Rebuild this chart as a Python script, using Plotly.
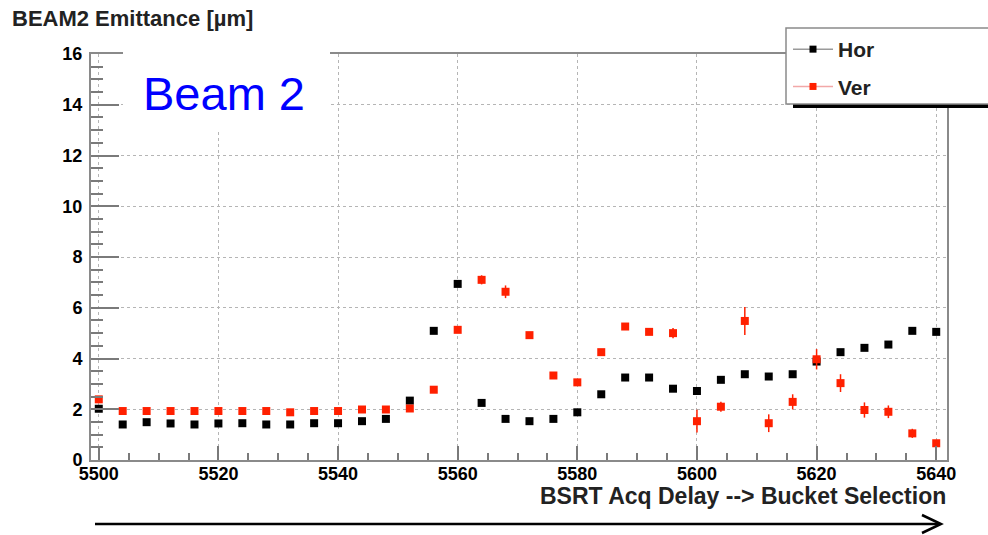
import plotly.graph_objects as go

delays = [5500, 5504, 5508, 5512, 5516, 5520, 5524, 5528, 5532, 5536, 5540, 5544,
          5548, 5552, 5556, 5560, 5564, 5568, 5572, 5576, 5580, 5584, 5588, 5592,
          5596, 5600, 5604, 5608, 5612, 5616, 5620, 5624, 5628, 5632, 5636, 5640]
hor = [2.02, 1.40, 1.49, 1.44, 1.40, 1.44, 1.45, 1.40, 1.40, 1.45, 1.45, 1.53,
       1.62, 2.34, 5.09, 6.94, 2.25, 1.62, 1.53, 1.62, 1.88, 2.59, 3.25, 3.25,
       2.81, 2.72, 3.16, 3.38, 3.29, 3.38, 3.88, 4.25, 4.42, 4.55, 5.09, 5.05]
ver = [2.39, 1.93, 1.93, 1.93, 1.93, 1.93, 1.93, 1.93, 1.88, 1.93, 1.93, 1.99,
       1.99, 2.03, 2.77, 5.13, 7.10, 6.63, 4.92, 3.33, 3.06, 4.25, 5.26, 5.05,
       5.00, 1.53, 2.10, 5.48, 1.45, 2.29, 3.97, 3.03, 1.97, 1.90, 1.05, 0.66]
ver_err = [0.12, 0.05, 0.05, 0.05, 0.05, 0.05, 0.05, 0.05, 0.05, 0.05, 0.05, 0.05,
           0.05, 0.08, 0.10, 0.10, 0.18, 0.25, 0.10, 0.08, 0.08, 0.10, 0.08, 0.10,
           0.20, 0.45, 0.20, 0.55, 0.35, 0.30, 0.40, 0.35, 0.30, 0.25, 0.18, 0.12]

RED = "#ff2000"
FONT = "Liberation Sans, Arial, sans-serif"

fig = go.Figure()
fig.add_trace(go.Scatter(x=delays, y=hor, mode="markers", showlegend=False,
                         marker=dict(symbol="square", size=8, color="black")))
fig.add_trace(go.Scatter(x=delays, y=ver, mode="markers", showlegend=False,
                         error_y=dict(type="data", array=ver_err, color=RED,
                                      thickness=1.5, width=0),
                         marker=dict(symbol="square", size=8, color=RED)))
# legend entries
fig.add_trace(go.Scatter(x=[None], y=[None], mode="lines+markers", name="Hor",
                         legendgroup="h",
                         line=dict(color="#9a9a9a", width=1.5),
                         marker=dict(symbol="square", size=7, color="black")))
fig.add_trace(go.Scatter(x=[None], y=[None], mode="lines+markers", name="Ver",
                         legendgroup="v",
                         line=dict(color="#f2a8a8", width=1.5),
                         marker=dict(symbol="square", size=7, color=RED)))

axis_common = dict(showline=True, mirror=True, linecolor="#8a8a8a", linewidth=2,
                   showgrid=True, gridcolor="#b5b5b5", griddash="dot", gridwidth=1,
                   zeroline=False, ticks="inside", tickcolor="#7a7a7a", tickwidth=2,
                   tickfont=dict(family=FONT, size=18, color="black", weight="bold"))

fig.update_xaxes(range=[5498.7, 5641.8], tick0=5500, dtick=20, ticklen=14,
                 ticklabelstandoff=-4,
                 minor=dict(dtick=5, tick0=5500, ticklen=7, ticks="inside",
                            tickcolor="#7a7a7a", tickwidth=1.5, showgrid=False),
                 **axis_common)
fig.update_yaxes(range=[0, 16], tick0=0, dtick=2, ticklen=28, ticklabelstandoff=3,
                 minor=dict(dtick=0.5, ticklen=12, ticks="inside",
                            tickcolor="#7a7a7a", tickwidth=1.5, showgrid=False),
                 **axis_common)

def px_x(p):
    return (p - 91) / (947 - 91)

def px_y(p):
    return (460 - p) / (460 - 54)

shapes = [
    # white box behind "Beam 2"
    dict(type="rect", xref="paper", yref="paper", layer="above",
         x0=px_x(123), x1=px_x(330), y0=px_y(130), y1=px_y(50),
         fillcolor="white", line=dict(width=0)),
    # legend shadow
    dict(type="rect", xref="paper", yref="paper", layer="above",
         x0=px_x(793), x1=px_x(992), y0=px_y(108), y1=px_y(103),
         fillcolor="black", line=dict(width=0)),
    # legend box
    dict(type="rect", xref="paper", yref="paper", layer="above",
         x0=px_x(786), x1=px_x(995), y0=px_y(104), y1=px_y(28),
         fillcolor="white", line=dict(color="#8a8a8a", width=1.5)),
    # bottom arrow
    dict(type="line", xref="paper", yref="paper",
         x0=px_x(95), x1=px_x(940), y0=px_y(524), y1=px_y(524),
         line=dict(color="black", width=2.5)),
    dict(type="path", xref="paper", yref="paper",
         path="M %f,%f L %f,%f L %f,%f" % (px_x(922), px_y(515), px_x(941), px_y(524),
                                             px_x(922), px_y(533)),
         line=dict(color="black", width=2.5)),
]

annotations = [
    dict(text="Beam 2", xref="paper", yref="paper", x=px_x(224), y=px_y(93),
         showarrow=False, xanchor="center", yanchor="middle",
         font=dict(family=FONT, size=47, color="#0000ff")),
    dict(text="BEAM2 Emittance [µm]", xref="paper", yref="paper",
         x=px_x(10), y=px_y(19), showarrow=False, xanchor="left", yanchor="middle",
         font=dict(family=FONT, size=22, color="#222", weight="bold")),
    dict(text="BSRT Acq Delay --> Bucket Selection", xref="paper", yref="paper",
         x=px_x(948), y=px_y(496), showarrow=False, xanchor="right", yanchor="middle",
         font=dict(family=FONT, size=23, color="#222", weight="bold")),
]

fig.update_layout(
    width=988, height=535,
    margin=dict(l=91, r=41, t=54, b=75, autoexpand=False),
    paper_bgcolor="white", plot_bgcolor="white",
    shapes=shapes, annotations=annotations,
    legend=dict(x=px_x(788), y=px_y(29), xanchor="left", yanchor="top",
                bgcolor="rgba(0,0,0,0)", borderwidth=0,
                font=dict(family=FONT, size=21, color="#222", weight="bold"),
                tracegroupgap=7, itemwidth=40,
                traceorder="grouped"),
)

fig.write_html("out.html", config={"displayModeBar": False},
               post_script="document.body.style.margin='0';document.body.style.overflow='hidden';")
